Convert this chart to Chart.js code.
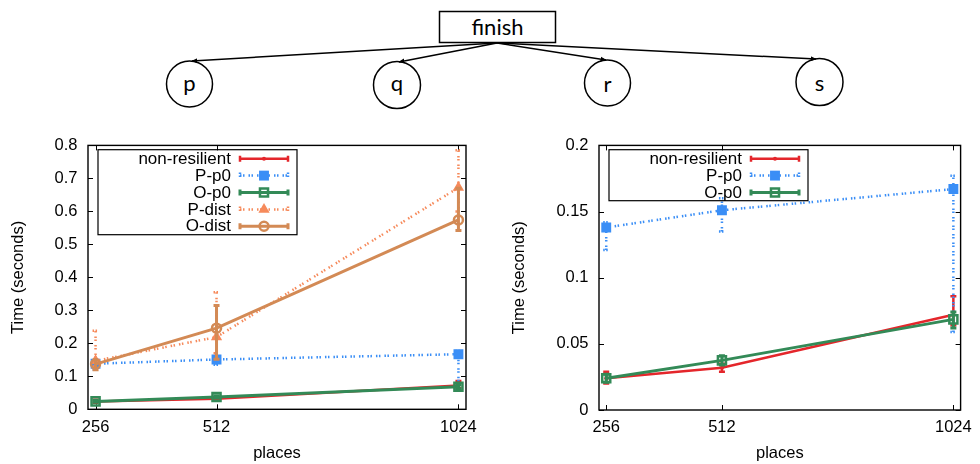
<!DOCTYPE html>
<html>
<head>
<meta charset="utf-8">
<script src="https://cdn.jsdelivr.net/npm/chart.js@4/dist/chart.umd.min.js"></script>
<style>
  body { margin: 0; background: #fff; }
  #page { position: relative; width: 980px; height: 464px; overflow: hidden; background: #fff; }
  #tree { position: absolute; left: 0; top: 0; }
  #leftChart { position: absolute; left: 0; top: 125px; }
  #rightChart { position: absolute; left: 490px; top: 125px; }
  #tree text { font-family: Lato, "Noto Sans", sans-serif; font-size: 22px; fill: #000; }
</style>
</head>
<body>
<div id="page">
  <svg id="tree" width="980" height="125">
    <defs>
      <marker id="arrow" viewBox="0 0 10 10" refX="9" refY="5" markerWidth="6" markerHeight="6"
              markerUnits="userSpaceOnUse" orient="auto">
        <path d="M0,1 L10,5 L0,9 z" fill="#000"/>
      </marker>
    </defs>
    <rect x="439.5" y="11.5" width="116" height="31" fill="none" stroke="#000" stroke-width="1.5"/>
    <text x="497.5" y="35" text-anchor="middle">finish</text>
    <g stroke="#000" stroke-width="1.5" fill="none" marker-end="url(#arrow)">
      <line x1="497" y1="43" x2="192" y2="61"/>
      <line x1="497" y1="43" x2="399" y2="62"/>
      <line x1="497" y1="43" x2="606" y2="60"/>
      <line x1="497" y1="43" x2="816" y2="59"/>
    </g>
    <g stroke="#000" stroke-width="1.5" fill="none">
      <circle cx="189.5" cy="84" r="23"/>
      <circle cx="397" cy="85" r="23.5"/>
      <circle cx="607.5" cy="83" r="23"/>
      <circle cx="819.5" cy="82" r="23.5"/>
    </g>
    <text x="189.5" y="91" text-anchor="middle">p</text>
    <text x="397" y="91" text-anchor="middle">q</text>
    <text x="607.5" y="92" text-anchor="middle">r</text>
    <text x="819.5" y="91" text-anchor="middle">s</text>
  </svg>
  <canvas id="leftChart" width="490" height="339"></canvas>
  <canvas id="rightChart" width="490" height="339"></canvas>
</div>
<script>
// number of places on the x axis
const places = [256, 512, 1024];

// mean time (seconds) and error bar ends for each run type
const nonResilient = [0.024, 0.032, 0.072];
const nonResilientLo = [0.020, 0.029, 0.064];
const nonResilientHi = [0.029, 0.035, 0.086];

const pP0 = [0.138, 0.151, 0.167];
const pP0Lo = [0.121, 0.135, 0.059];
const pP0Hi = [0.142, 0.160, 0.177];

const oP0 = [0.024, 0.0375, 0.0685];
const oP0Lo = [0.021, 0.034, 0.062];
const oP0Hi = [0.027, 0.041, 0.074];

const pDist = [0.147, 0.219, 0.672];
const pDistLo = [0.130, 0.170, 0.600];
const pDistHi = [0.238, 0.355, 0.785];

const oDist = [0.137, 0.246, 0.574];
const oDistLo = [0.120, 0.152, 0.542];
const oDistHi = [0.150, 0.315, 0.670];

const labels = ["non-resilient", "P-p0", "O-p0", "P-dist", "O-dist"];

const FONT = "'Liberation Sans', Arial, sans-serif";
Chart.defaults.font.family = FONT;
Chart.defaults.color = "#000";

const dotted = [1.5, 1.5, 1.5, 4];

const styles = {
  "non-resilient": { color: "#e4262b", width: 2.5, dash: [], pointStyle: "circle", radius: 2, fill: true },
  "P-p0": { color: "#3a8ef6", width: 2.5, dash: dotted, pointStyle: "rect", radius: 7, fill: true },
  "O-p0": { color: "#338a57", width: 3, dash: [], pointStyle: "rect", radius: 5.7, fill: false },
  "P-dist": { color: "#f68a5b", width: 2.5, dash: dotted, pointStyle: "triangle", radius: 6.5, fill: true },
  "O-dist": { color: "#d38a55", width: 3, dash: [], pointStyle: "circle", radius: 4.5, fill: false }
};

function makeDataset(label, values, lo, hi, index, count) {
  const s = styles[label];
  const points = [];
  for (let i = 0; i < places.length; i++) {
    points.push({ x: places[i], y: values[i] });
  }
  return {
    label: label,
    data: points,
    errLo: lo,
    errHi: hi,
    borderColor: s.color,
    borderWidth: s.width,
    borderDash: s.dash,
    backgroundColor: s.fill ? s.color : "rgba(0,0,0,0)",
    pointStyle: s.pointStyle,
    pointRadius: s.radius,
    pointBorderWidth: s.fill ? 0 : 2.5,
    pointBorderColor: s.color,
    pointBackgroundColor: s.fill ? s.color : "rgba(0,0,0,0)",
    tension: 0,
    order: count - index
  };
}

// vertical error bars, drawn under each dataset's line
const errorBars = {
  id: "errorBars",
  beforeDatasetDraw(chart, args) {
    const ds = chart.data.datasets[args.index];
    if (!ds.errLo) return;
    const ctx = chart.ctx;
    const x = chart.scales.x;
    const y = chart.scales.y;
    ctx.save();
    ctx.strokeStyle = ds.borderColor;
    ctx.lineWidth = ds.borderWidth;
    ctx.setLineDash(ds.borderDash);
    for (let i = 0; i < ds.data.length; i++) {
      const px = x.getPixelForValue(ds.data[i].x);
      const lo = y.getPixelForValue(ds.errLo[i]);
      const hi = y.getPixelForValue(ds.errHi[i]);
      ctx.beginPath();
      ctx.moveTo(px, lo);
      ctx.lineTo(px, hi);
      ctx.moveTo(px - 3, lo);
      ctx.lineTo(px + 3, lo);
      ctx.moveTo(px - 3, hi);
      ctx.lineTo(px + 3, hi);
      ctx.stroke();
    }
    ctx.restore();
  }
};

// plot border with inward ticks on all four sides
const frame = {
  id: "frame",
  beforeDatasetsDraw(chart) {
    const { ctx, chartArea: a } = chart;
    const x = chart.scales.x;
    const y = chart.scales.y;
    ctx.save();
    ctx.strokeStyle = "#000";
    ctx.lineWidth = 1;
    ctx.beginPath();
    x.ticks.forEach(t => {
      const px = Math.round(x.getPixelForValue(t.value)) + 0.5;
      ctx.moveTo(px, a.bottom);
      ctx.lineTo(px, a.bottom - 5);
      ctx.moveTo(px, a.top);
      ctx.lineTo(px, a.top + 5);
    });
    y.ticks.forEach(t => {
      const py = Math.round(y.getPixelForValue(t.value)) + 0.5;
      ctx.moveTo(a.left, py);
      ctx.lineTo(a.left + 5, py);
      ctx.moveTo(a.right, py);
      ctx.lineTo(a.right - 5, py);
    });
    ctx.stroke();
    ctx.lineWidth = 1.4;
    ctx.strokeRect(a.left, a.top, a.right - a.left, a.bottom - a.top);
    ctx.restore();
  }
};

// boxed key in the upper left corner, label text right-aligned before the sample
const boxLegend = {
  id: "boxLegend",
  afterDatasetsDraw(chart) {
    const { ctx, chartArea: a } = chart;
    const sets = chart.data.datasets;
    const left = a.left + 10;
    const top = a.top + 4.3;
    const rowH = 16.9;
    ctx.save();
    ctx.strokeStyle = "#000";
    ctx.lineWidth = 1.2;
    ctx.strokeRect(left, top, 199, sets.length * 17);
    ctx.font = "17px " + FONT;
    ctx.textAlign = "right";
    ctx.textBaseline = "middle";
    sets.forEach((ds, i) => {
      const cy = top + 9 + i * rowH;
      ctx.fillStyle = "#000";
      ctx.fillText(ds.label, left + 133, cy + 0.5);
      const x0 = left + 142;
      const x1 = left + 190;
      ctx.strokeStyle = ds.borderColor;
      ctx.lineWidth = ds.borderWidth;
      ctx.setLineDash(ds.borderDash);
      ctx.beginPath();
      ctx.moveTo(x0, cy);
      ctx.lineTo(x1, cy);
      ctx.moveTo(x0, cy - 3);
      ctx.lineTo(x0, cy + 3);
      ctx.moveTo(x1, cy - 3);
      ctx.lineTo(x1, cy + 3);
      ctx.stroke();
      ctx.setLineDash([]);
      ctx.fillStyle = ds.pointBackgroundColor;
      ctx.strokeStyle = ds.pointBorderColor;
      ctx.lineWidth = ds.pointBorderWidth;
      Chart.helpers.drawPoint(ctx, {
        pointStyle: ds.pointStyle,
        radius: ds.pointRadius,
        rotation: 0,
        borderWidth: ds.pointBorderWidth
      }, (x0 + x1) / 2, cy);
    });
    ctx.restore();
  }
};

function makeChart(canvasId, datasets, yMax, yStep, areaLeft, areaRight, areaBottom, yTitlePad) {
  return new Chart(document.getElementById(canvasId).getContext("2d"), {
    type: "line",
    data: { datasets: datasets },
    options: {
      responsive: false,
      animation: false,
      events: [],
      layout: { padding: { top: 15.7, right: 490 - areaRight, left: 0, bottom: 0 } },
      plugins: {
        legend: { display: false },
        tooltip: { enabled: false }
      },
      scales: {
        x: {
          type: "linear",
          min: 240,
          max: 1040,
          afterBuildTicks: s => { s.ticks = places.map(v => ({ value: v })); },
          afterFit: s => { s.height = 339 - areaBottom; },
          grid: { display: false, drawTicks: false },
          border: { display: false },
          ticks: {
            font: { size: 16.5 },
            padding: 8,
            maxRotation: 0,
            callback: v => String(v)
          },
          title: {
            display: true,
            text: "places",
            font: { size: 16.5 },
            padding: { top: 0, bottom: 0.8 }
          }
        },
        y: {
          min: 0,
          max: yMax,
          afterFit: s => { s.width = areaLeft; },
          grid: { display: false, drawTicks: false },
          border: { display: false },
          ticks: {
            stepSize: yStep,
            font: { size: 16.5 },
            padding: 10.5,
            callback: v => String(+v.toFixed(2))
          },
          title: {
            display: true,
            text: "Time (seconds)",
            font: { size: 16.5 },
            padding: { top: yTitlePad, bottom: 0 }
          }
        }
      }
    },
    plugins: [frame, errorBars, boxLegend]
  });
}

const leftSets = [
  makeDataset(labels[0], nonResilient, nonResilientLo, nonResilientHi, 0, 5),
  makeDataset(labels[1], pP0, pP0Lo, pP0Hi, 1, 5),
  makeDataset(labels[2], oP0, oP0Lo, oP0Hi, 2, 5),
  makeDataset(labels[3], pDist, pDistLo, pDistHi, 3, 5),
  makeDataset(labels[4], oDist, oDistLo, oDistHi, 4, 5)
];

const rightSets = [
  makeDataset(labels[0], nonResilient, nonResilientLo, nonResilientHi, 0, 3),
  makeDataset(labels[1], pP0, pP0Lo, pP0Hi, 1, 3),
  makeDataset(labels[2], oP0, oP0Lo, oP0Hi, 2, 3)
];

makeChart("leftChart", leftSets, 0.8, 0.1, 88, 466, 284.3, 8.4);
makeChart("rightChart", rightSets, 0.2, 0.05, 109, 476, 285, 19.4);
</script>
</body>
</html>
